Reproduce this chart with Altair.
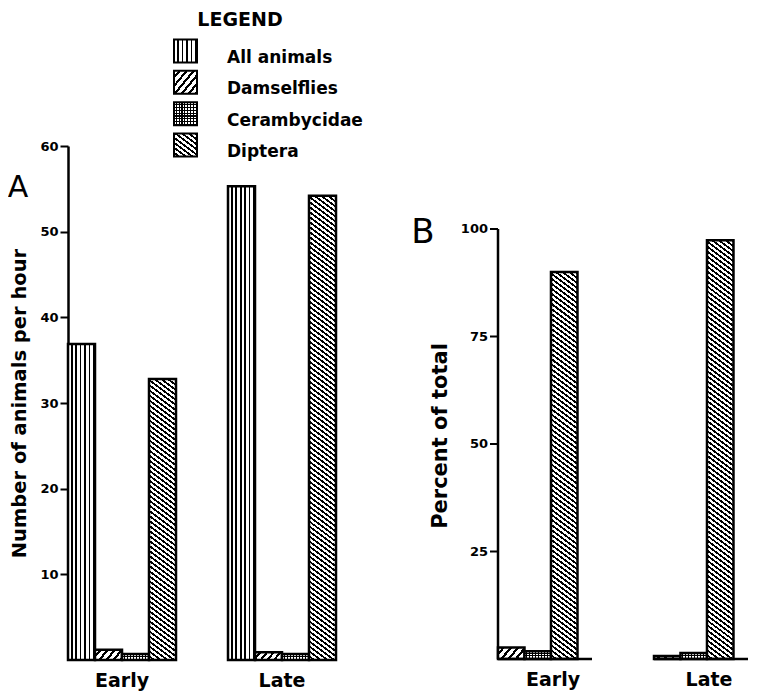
import altair as alt

# ---------------- values ----------------
periods = ["Early", "Late"]
series_a = ["All animals", "Damselflies", "Cerambycidae", "Diptera"]
early_per_hour = [36.9, 1.2, 0.7, 32.8]
late_per_hour = [55.3, 0.9, 0.7, 54.2]
series_b = ["Damselflies", "Cerambycidae", "Diptera"]
early_percent = [2.7, 1.8, 90.0]
late_percent = [0.7, 1.4, 97.4]
ticks_a = [10, 20, 30, 40, 50, 60]
ticks_b = [25, 50, 75, 100]
legend_title = ["LEGEND"]
title_a = "Number of animals per hour"
title_b = ["Percent of total"]
panel_a = ["A"]
panel_b = ["B"]

FONT = "DejaVu Sans"

# ---------------- layout ----------------
A_W, A_H, A_MAX = 268, 514, 60
A_PAD = 0.325
B_W, B_H, B_MAX = 250, 430, 100
B_BAND = 94
B_PAD = 1 - B_BAND / (B_W - B_BAND)
B_OUTER = 0.274
B_TOP_GAP = 83
GAP_AB = 162
SW = 23  # legend swatch side

a_band = A_W / (2 - A_PAD) * (1 - A_PAD)
a_bar_w = a_band / 4
a_px = A_H / A_MAX
b_bar_w = B_BAND / (3 + 2 * B_OUTER)
b_px = B_H / B_MAX


# ---------------- hatch fills (SVG linear gradients with hard stops) ----------------
def _stops(n, black, c0="white", c1="black"):
    res = []
    for k in range(n):
        a = k / n
        c = (k + 1) / n
        b = c - black / n
        res += [
            {"offset": round(a, 5), "color": c0},
            {"offset": round(b, 5), "color": c0},
            {"offset": round(b, 5), "color": c1},
            {"offset": round(c, 5), "color": c1},
        ]
    return res


def vertical(w, h, period, black):
    n = max(2, round(w / period))
    return {"gradient": "linear", "x1": 0, "y1": 0, "x2": 1, "y2": 0,
            "stops": _stops(n, black)}


def diagonal(w, h, slope, pv, black, forward):
    h = max(h, 1.0)
    k = (slope * w + h) / ((slope * w) ** 2 + h ** 2)
    n = max(1, round((slope * w + h) / pv))
    if forward:
        x1, y1, x2, y2 = 0, 0, k * slope * w, k * h
    else:
        x1, y1, x2, y2 = 0, 1, k * slope * w, 1 - k * h
    return {"gradient": "linear", "x1": round(x1, 6), "y1": round(y1, 6),
            "x2": round(x2, 6), "y2": round(y2, 6), "stops": _stops(n, black)}


def horizontal_overlay(h, period, black):
    n = max(1, round(h / period))
    return {"gradient": "linear", "x1": 0, "y1": 0, "x2": 0, "y2": 1,
            "stops": _stops(n, black, "rgba(0,0,0,0)", "black")}


HATCH = {
    "All animals": lambda w, h: vertical(w, h, 4.5, 0.35),
    "Damselflies": lambda w, h: diagonal(w, h, 1.2, 8, 0.4, True),
    "Cerambycidae": lambda w, h: vertical(w, h, 3, 0.4),
    "Diptera": lambda w, h: diagonal(w, h, 0.75, 5, 0.45, False),
}


def bar_records(vals_by_period, series, bar_w, px):
    recs = []
    for period, vals in zip(periods, vals_by_period):
        for s, v in zip(series, vals):
            h = v * px
            r = {"period": period, "series": s, "value": v, "hatch": HATCH[s](bar_w, h)}
            if s == "Cerambycidae":
                r["cross"] = horizontal_overlay(h, 3, 0.4)
            recs.append(r)
    return recs


recs_a = bar_records([early_per_hour, late_per_hour], series_a, a_bar_w, a_px)
recs_b = bar_records([early_percent, late_percent], series_b, b_bar_w, b_px)
legend_recs = []
for s in series_a:
    r = {"series": s, "hatch": HATCH[s](SW, SW)}
    if s == "Cerambycidae":
        r["cross"] = horizontal_overlay(SW, 3, 0.4)
    legend_recs.append(r)


# ---------------- shared styles ----------------
def x_axis(offset):
    return alt.Axis(title=None, domain=False, ticks=False, tickSize=0, labelAngle=0,
                    labelFont=FONT, labelFontSize=19, labelFontWeight="bold",
                    labelColor="black", labelPadding=11, labelOffset=offset)


def y_axis(values, title, size, tx, ty):
    return alt.Axis(values=values, title=title, grid=False,
                    domain=True, domainColor="black", domainWidth=2.5,
                    ticks=True, tickColor="black", tickWidth=2, tickSize=8,
                    labelPadding=2, labelFont=FONT, labelFontSize=13,
                    labelFontWeight="bold", labelColor="black",
                    titleFont=FONT, titleFontSize=size, titleFontWeight="bold",
                    titleColor="black", titleAngle=270, titleAlign="center",
                    titleBaseline="alphabetic", titleX=tx, titleY=ty)


# ---------------- panel A ----------------
xa = alt.X("period:N", sort=periods,
           scale=alt.Scale(domain=periods, paddingInner=A_PAD, paddingOuter=0),
           axis=x_axis(0))
xoa = alt.XOffset("series:N",
                  scale=alt.Scale(domain=series_a, paddingInner=0, paddingOuter=0))
ya_scale = alt.Scale(domain=[0, A_MAX], nice=False, zero=True)
ya = alt.Y("value:Q", stack=None, scale=ya_scale,
           axis=y_axis(ticks_a, title_a, 19.5, -43, 257))
ya_plain = alt.Y("value:Q", stack=None, scale=ya_scale, axis=None)

bars_a = alt.Chart(alt.Data(values=recs_a)).mark_bar(
    stroke="black", strokeWidth=2.5
).encode(x=xa, xOffset=xoa, y=ya, fill=alt.Fill("hatch:N", scale=None))

cross_a = alt.Chart(alt.Data(values=recs_a)).transform_filter(
    alt.datum.series == "Cerambycidae"
).mark_bar(strokeWidth=0).encode(
    x=xa, xOffset=xoa, y=ya_plain, fill=alt.Fill("cross:N", scale=None))

ly = alt.Y("series:N", axis=None,
           scale=alt.Scale(type="point", domain=series_a, range=[-95, -1], padding=0))

legend_sq = alt.Chart(alt.Data(values=legend_recs)).mark_square(
    size=SW * SW, filled=True, stroke="black", strokeWidth=2, opacity=1
).encode(x=alt.value(117.5), y=ly, fill=alt.Fill("hatch:N", scale=None))

legend_cross = alt.Chart(alt.Data(values=legend_recs)).transform_filter(
    alt.datum.series == "Cerambycidae"
).mark_square(size=SW * SW, filled=True, strokeWidth=0, opacity=1).encode(
    x=alt.value(117.5), y=ly, fill=alt.Fill("cross:N", scale=None))

legend_txt = alt.Chart(alt.Data(values=[{"series": s} for s in series_a])).mark_text(
    align="left", baseline="middle", dy=7, font=FONT, fontSize=17,
    fontWeight="bold", color="black"
).encode(x=alt.value(159), y=ly, text="series:N")

legend_head = alt.Chart(alt.Data(values=[{"t": t} for t in legend_title])).mark_text(
    align="center", baseline="top", font=FONT, fontSize=19,
    fontWeight="bold", color="black"
).encode(x=alt.value(172), y=alt.value(-135), text="t:N")

letter_a = alt.Chart(alt.Data(values=[{"t": t} for t in panel_a])).mark_text(
    align="center", baseline="alphabetic", font=FONT, fontSize=30, color="black"
).encode(x=alt.value(-50), y=alt.value(51), text="t:N")

# axis line and ticks of panel B, drawn from panel A's group with a y scale
# that maps 0..100 onto panel B's plot height
b_axis_x = A_W + GAP_AB
yb_in_a = alt.Scale(domain=[0, B_MAX], range=[A_H - 1, A_H - 1 - B_H],
                    nice=False, zero=True)
b_axis_line = alt.Chart(alt.Data(values=[{"value": 0, "top": B_MAX}])).mark_rule(
    color="black", strokeWidth=2.5
).encode(x=alt.value(b_axis_x),
         y=alt.Y("value:Q", scale=yb_in_a, axis=None), y2=alt.Y2("top:Q"))
b_ticks = alt.Chart(alt.Data(values=[{"value": v} for v in ticks_b])).mark_rule(
    color="black", strokeWidth=2
).encode(x=alt.value(b_axis_x - 8), x2=alt.value(b_axis_x),
         y=alt.Y("value:Q", scale=yb_in_a, axis=None))

chart_a = alt.layer(
    bars_a, cross_a, legend_sq, legend_cross, legend_txt, legend_head, letter_a,
    b_axis_line, b_ticks
).resolve_scale(y="independent").properties(width=A_W, height=A_H)

# ---------------- panel B ----------------
xb = alt.X("period:N", sort=periods,
           scale=alt.Scale(domain=periods, paddingInner=B_PAD, paddingOuter=0),
           axis=x_axis(8))
xob = alt.XOffset("series:N",
                  scale=alt.Scale(domain=series_b, paddingInner=0,
                                  paddingOuter=B_OUTER, align=0))
yb_scale = alt.Scale(domain=[0, B_MAX], nice=False, zero=True)
yb = alt.Y("value:Q", stack=None, scale=yb_scale, axis=None)

bars_b = alt.Chart(alt.Data(values=recs_b)).mark_bar(
    stroke="black", strokeWidth=2.5
).encode(x=xb, xOffset=xob, y=yb, fill=alt.Fill("hatch:N", scale=None))

cross_b = alt.Chart(alt.Data(values=recs_b)).transform_filter(
    alt.datum.series == "Cerambycidae"
).mark_bar(strokeWidth=0).encode(
    x=xb, xOffset=xob, y=yb, fill=alt.Fill("cross:N", scale=None))

# baseline under each group: a zero-height bar whose outline is the line
base_b = alt.Chart(alt.Data(values=[{"period": p, "value": 0} for p in periods])).mark_bar(
    stroke="black", strokeWidth=2.5, fill="black"
).encode(x=xb, y=yb, y2=alt.Y2("value:Q"))

# tick labels and title of panel B's y axis, placed through panel B's y scale
b_axis_data = alt.Data(values=[{"value": v} for v in ticks_b])
b_labels = alt.Chart(b_axis_data).mark_text(
    align="right", baseline="middle", font=FONT, fontSize=13,
    fontWeight="bold", color="black"
).encode(x=alt.value(-10), y=yb, text="value:Q")
b_title = alt.Chart(alt.Data(values=[{"t": t} for t in title_b])).mark_text(
    angle=270, align="center", baseline="alphabetic", font=FONT, fontSize=21,
    fontWeight="bold", color="black"
).encode(x=alt.value(-51), y=alt.value(207), text="t:N")

chart_b = alt.layer(
    bars_b, cross_b, base_b, b_labels, b_title
).properties(width=B_W, height=B_H)

# the "B" tag sits in the empty strip above panel B
letter_b = alt.Chart(alt.Data(values=[{"t": t} for t in panel_b])).mark_text(
    align="center", baseline="alphabetic", font=FONT, fontSize=34, color="black"
).encode(x=alt.value(-75), y=alt.value(97), text="t:N").properties(
    width=B_W, height=B_TOP_GAP)

col_b = alt.vconcat(letter_b, chart_b, spacing=0, bounds="flush").resolve_scale(
    x="independent", y="independent")

chart = alt.hconcat(chart_a, col_b, spacing=GAP_AB, bounds="flush").resolve_scale(
    x="independent", xOffset="independent", y="independent"
).properties(
    padding={"left": -1, "top": 3, "right": 0, "bottom": 1}
).configure(font=FONT).configure_view(stroke=None)

chart.save("out.html", embed_options={"renderer": "svg", "actions": False})
